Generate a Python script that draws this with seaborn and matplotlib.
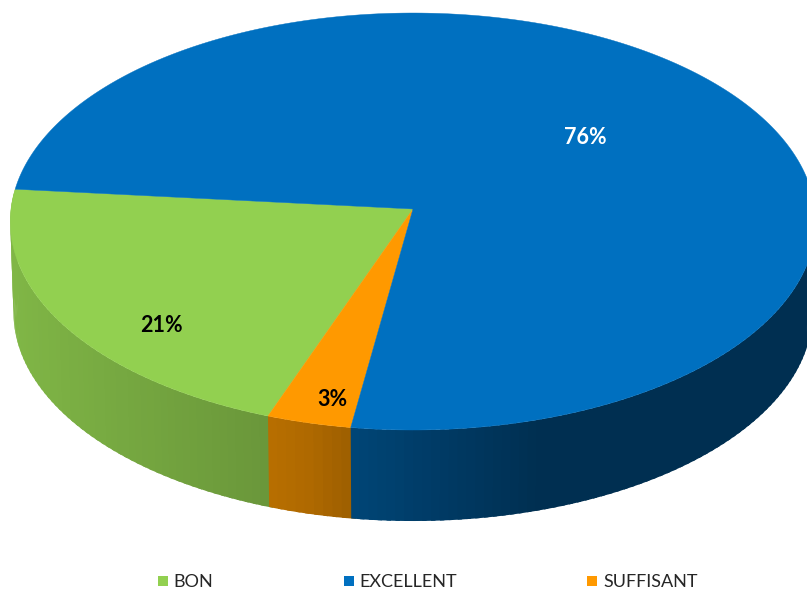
import numpy as np
import seaborn as sns
import matplotlib
matplotlib.use('Agg')
import matplotlib.pyplot as plt
from matplotlib.lines import Line2D

# data
categories = ['BON', 'SUFFISANT', 'EXCELLENT']
values = [21.0, 3.2, 75.8]
legend_order = ['BON', 'EXCELLENT', 'SUFFISANT']
colors = {'BON': '#92D050', 'SUFFISANT': '#FF9900', 'EXCELLENT': '#0070C0'}
label_colors = {'BON': 'black', 'SUFFISANT': 'black', 'EXCELLENT': 'white'}
label_pos = {'BON': (161, 325), 'SUFFISANT': (332, 400), 'EXCELLENT': (585, 137)}

# wall shading along the horizontal axis of the disc
shade_u = [-1.0, -0.36, -0.25, -0.15, 0.3, 1.0]
shade_k = [0.88, 0.73, 0.69, 0.62, 0.42, 0.42]

CX, CY = 413, 209
R = 402
A, B = 207.75, 0.06
DEPTH = 91
START = 185.5


def project(t):
    # disc angle (degrees) to picture pixels, slight perspective
    u, v = np.cos(np.radians(t)), np.sin(np.radians(t))
    w = 1 - B * v
    return CX + R * u / w, CY + A * v / w


def wall_bottom(x, y):
    return CX + (x - CX) * 0.992, y + DEPTH


sns.set_theme(style='white')
plt.rcParams['font.family'] = ['Lato', 'DejaVu Sans']

fig, ax = plt.subplots(figsize=(8.07, 5.89), dpi=100)
ax.set_position([0, 0, 1, 1])
ax.set_xlim(0, 807)
ax.set_ylim(589, 0)
ax.axis('off')

angles = START - np.cumsum([0] + [v / sum(values) * 360 for v in values])

# side walls first, the top surface hides the back part
for i, (name, t0, t1) in enumerate(zip(categories, angles[:-1], angles[1:])):
    base = np.array(matplotlib.colors.to_rgb(colors[name]))
    n = max(int(abs(t1 - t0) / 1.2), 2)
    edges = np.linspace(t0, t1, n + 1)
    step = edges[1] - edges[0]
    for a, b in zip(edges[:-1], edges[1:]):
        if np.sin(np.radians((a + b) / 2)) < -0.1:
            continue
        # each strip runs on under the next one so no seams show
        end = b + step * 0.5 if b != edges[-1] or i < len(categories) - 1 else b
        x, y = project(np.linspace(a, end, 6))
        xb, yb = wall_bottom(x, y)
        k = np.interp(np.cos(np.radians((a + b) / 2)), shade_u, shade_k)
        ax.fill(np.r_[x, xb[::-1]], np.r_[y, yb[::-1]], color=base * k, lw=0)

for name, t0, t1 in zip(categories, angles[:-1], angles[1:]):
    x, y = project(np.linspace(t0, t1, 300))
    ax.fill(np.r_[CX, x], np.r_[CY, y], color=colors[name], lw=0.3)

for name, val in zip(categories, values):
    px, py = label_pos[name]
    ax.text(px, py, f'{val:.0f}%', color=label_colors[name], fontsize=15.5,
            fontweight='bold', ha='center', va='center')

handles = [Line2D([], [], ls='none', marker='s', ms=7.5, mew=0, color=colors[c])
           for c in legend_order]
ax.legend(handles, legend_order, loc='center', bbox_to_anchor=(426.5 / 807, 1 - 582 / 589),
          ncols=3, frameon=False, fontsize=13, labelcolor='#262626', handlelength=0.8,
          handletextpad=0.2, columnspacing=7.1, borderpad=0)

fig.savefig('out.png', dpi=100)
